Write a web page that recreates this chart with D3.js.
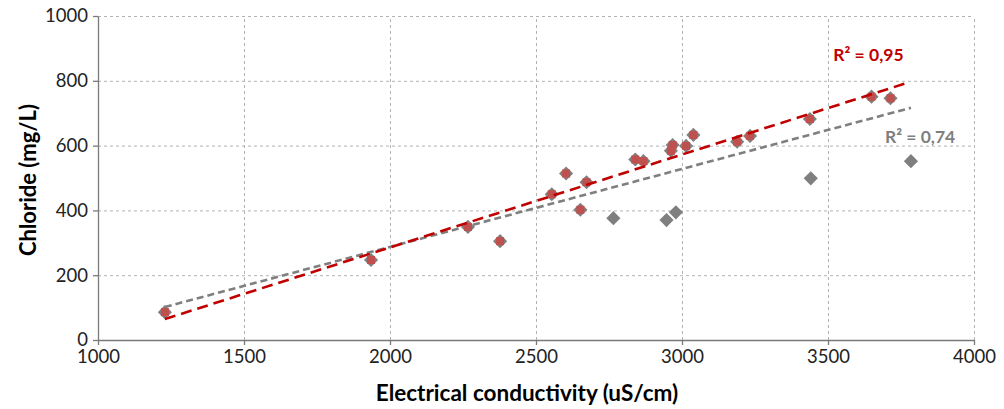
<!DOCTYPE html>
<html>
<head>
<meta charset="utf-8">
<script src="https://cdn.jsdelivr.net/npm/d3@7"></script>
<style>
  body { margin: 0; background: #fff; }
  text { font-family: Lato, "Open Sans", sans-serif; }
  .grid line { stroke: #b3b3b3; stroke-dasharray: 3,3; }
  .grid path { display: none; }
  .axis path, .axis line { stroke: #7a7a7a; stroke-width: 1.3; }
  .axis text { font-size: 18.5px; fill: #222; }
</style>
</head>
<body>
<div id="chart"></div>
<script>
// conductivity (uS/cm) and chloride (mg/L)
var conductivity = [1229, 1935, 2267, 2377, 2554, 2603, 2673, 2652, 2765, 2947, 2979,
  2840, 2868, 2968, 2962, 3014, 3039, 3189, 3233, 3438, 3441, 3649, 3714, 3784];
var chloride = [86, 247, 349, 305, 450, 514, 487, 402, 376, 370, 394,
  557, 552, 602, 584, 599, 633, 612, 630, 682, 499, 751, 746, 552];
// 1 = point is part of the red (fitted) subset
var inSubset = [1, 1, 1, 1, 1, 1, 1, 1, 0, 0, 0,
  1, 1, 1, 1, 1, 1, 1, 1, 1, 0, 1, 1, 0];

var xTicks = [1000, 1500, 2000, 2500, 3000, 3500, 4000];
var yTicks = [0, 200, 400, 600, 800, 1000];
var r2Labels = ["R² = 0,95", "R² = 0,74"];

var svgWidth = 1004;
var svgHeight = 409;
var margin = {top: 16, right: 30, bottom: 69, left: 98};
var width = svgWidth - margin.left - margin.right;
var height = svgHeight - margin.top - margin.bottom;

var svg = d3.select("#chart").append("svg")
  .attr("width", svgWidth)
  .attr("height", svgHeight);

var chartGroup = svg.append("g")
  .attr("transform", `translate(${margin.left}, ${margin.top})`);

var points = conductivity.map((c, i) => ({x: c, y: chloride[i], sub: inSubset[i]}));
var subset = points.filter(d => d.sub);

var x = d3.scaleLinear().domain([1000, 4000]).range([0, width]);
var y = d3.scaleLinear().domain([0, 1000]).range([height, 0]);

// gridlines
chartGroup.append("g").attr("class", "grid")
  .call(d3.axisLeft(y).tickValues(yTicks.slice(1)).tickSize(-width).tickFormat(""));
chartGroup.append("g").attr("class", "grid")
  .attr("transform", `translate(0, ${height})`)
  .call(d3.axisBottom(x).tickValues(xTicks.slice(1)).tickSize(-height).tickFormat(""));

// axes
chartGroup.append("g").attr("class", "axis")
  .attr("transform", `translate(0, ${height})`)
  .call(d3.axisBottom(x).tickValues(xTicks).tickSize(5).tickSizeOuter(0).tickPadding(5).tickFormat(d3.format("d")));
chartGroup.append("g").attr("class", "axis")
  .call(d3.axisLeft(y).tickValues(yTicks).tickSize(5).tickSizeOuter(0).tickPadding(5).tickFormat(d3.format("d")));

// least squares fit
function fit(data) {
  var mx = d3.mean(data, d => d.x), my = d3.mean(data, d => d.y);
  var sxy = d3.sum(data, d => (d.x - mx) * (d.y - my));
  var sxx = d3.sum(data, d => (d.x - mx) * (d.x - mx));
  var b = sxy / sxx;
  return {b: b, a: my - b * mx};
}
var xr = d3.extent(points, d => d.x);
var fitAll = fit(points);
var fitSub = fit(subset);

var line = d3.line().x(d => x(d[0])).y(d => y(d[1]));

chartGroup.append("path")
  .datum(xr.map(v => [v, fitAll.a + fitAll.b * v]))
  .attr("d", line)
  .attr("fill", "none")
  .attr("stroke", "#7f7f7f")
  .attr("stroke-width", 2.6)
  .attr("stroke-dasharray", "7,4");

// diamonds (all points)
chartGroup.append("g").selectAll("path")
  .data(points)
  .enter().append("path")
  .attr("transform", d => `translate(${x(d.x)}, ${y(d.y)}) rotate(45)`)
  .attr("d", "M-5,-5H5V5H-5Z")
  .attr("fill", "#7f7f7f");

// red squares (subset)
chartGroup.append("g").selectAll("rect")
  .data(subset)
  .enter().append("rect")
  .attr("x", d => x(d.x) - 4)
  .attr("y", d => y(d.y) - 4)
  .attr("width", 8)
  .attr("height", 8)
  .attr("fill", "#c0504d");

chartGroup.append("path")
  .datum([d3.min(subset, d => d.x), xr[1] - 20].map(v => [v, fitSub.a + fitSub.b * v]))
  .attr("d", line)
  .attr("fill", "none")
  .attr("stroke", "#c00000")
  .attr("stroke-width", 2.6)
  .attr("stroke-dasharray", "11,6");

// R² labels
chartGroup.append("text")
  .attr("x", x(3518)).attr("y", y(860))
  .attr("fill", "#c00000")
  .style("font-size", "17.5px").style("font-weight", "bold")
  .text(r2Labels[0]);
chartGroup.append("text")
  .attr("x", x(3695)).attr("y", y(608))
  .attr("fill", "#7f7f7f")
  .style("font-size", "17.5px").style("font-weight", "bold")
  .text(r2Labels[1]);

// axis titles
svg.append("text")
  .attr("transform", `translate(36, ${margin.top + height / 2 + 2}) rotate(-90)`)
  .attr("text-anchor", "middle")
  .style("font-size", "22px").style("font-weight", "bold")
  .text("Chloride (mg/L)");

svg.append("text")
  .attr("x", 527).attr("y", 401)
  .attr("text-anchor", "middle")
  .style("font-size", "22.5px").style("font-weight", "bold")
  .text("Electrical conductivity (uS/cm)");
</script>
</body>
</html>
